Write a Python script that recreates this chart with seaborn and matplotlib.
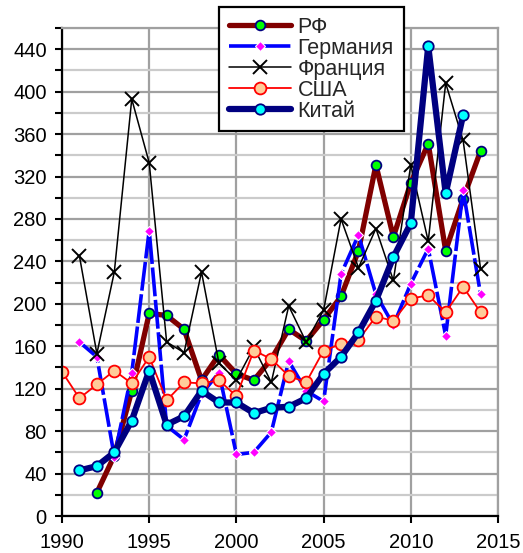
import numpy as np
import pandas as pd
import matplotlib
matplotlib.use('Agg')
import matplotlib.pyplot as plt
from matplotlib.ticker import MultipleLocator
import seaborn as sns

nan = np.nan
years = list(range(1990, 2015))
rf = [nan, nan, 22, 57, 118, 191, 189, 176, 128, 152, 134, 128, 148, 176, 165, 185, 207, 250, 331, 263, 314, 351, 250, 299, 344]
germany = [nan, 164, 150, 56, 135, 269, 85, 72, 115, 135, 58, 60, 79, 146, 118, 108, 228, 265, 209, 180, 219, 252, 170, 307, 209]
france = [nan, 245, 153, 230, 393, 333, 164, 154, 230, 144, 128, 159, 126, 198, 164, 194, 280, 234, 271, 222, 331, 259, 408, 354, 233]
usa = [136, 111, 124, 137, 125, 150, 109, 126, 125, 128, 113, 156, 148, 132, 126, 156, 162, 166, 188, 184, 205, 208, 192, 216, 192]
china = [nan, 43, 47, 60, 90, 137, 86, 94, 118, 107, 107, 97, 102, 103, 111, 134, 150, 173, 203, 244, 276, 443, 304, 378, nan]

labels = ['РФ', 'Германия', 'Франция', 'США', 'Китай']

sns.set_theme(style='white')
plt.rcParams['font.family'] = ['Liberation Sans', 'DejaVu Sans']

fig = plt.figure(figsize=(5.23, 5.53), dpi=100)
ax = fig.add_axes([62 / 523, 1 - 516 / 553, 436 / 523, 488 / 553])

df = pd.DataFrame({'year': years, 'РФ': rf, 'Германия': germany,
                   'Франция': france, 'США': usa, 'Китай': china})

# series styles, in drawing order
styles = {
    'РФ': dict(color='#800000', lw=3.8, marker='o', ms=7, mfc='#00ff00', mec='#000080', mew=1.3),
    'Германия': dict(color='#0000ff', lw=2.6, marker='D', ms=5, mfc='#ff00ff', mec='white', mew=0.8,
                     dashes=(8, 1.0)),
    'Франция': dict(color='black', lw=1.1, marker='x', ms=10, mfc='black', mec='black', mew=1.4),
    'США': dict(color='#ff0000', lw=1.3, marker='o', ms=8.5, mfc='#ffcc99', mec='#ff0000', mew=1.3),
    'Китай': dict(color='#000080', lw=4.5, marker='o', ms=7.5, mfc='#00ffff', mec='#000080', mew=1.3),
}

handles = []
for name in labels:
    st = styles[name]
    d = df[['year', name]].dropna()
    kw = dict(marker=st['marker'], markersize=st['ms'], markerfacecolor=st['mfc'],
              markeredgecolor=st['mec'], markeredgewidth=st['mew'])
    if 'dashes' in st:
        kw['dashes'] = st['dashes']
    sns.lineplot(data=d, x='year', y=name, ax=ax, color=st['color'], linewidth=st['lw'],
                 label=name, legend=False, **kw)
    handles.append(ax.lines[-1])

ax.set_xlim(1990, 2015)
ax.set_ylim(0, 460)
ax.xaxis.set_major_locator(MultipleLocator(5))
ax.yaxis.set_major_locator(MultipleLocator(40))
ax.yaxis.set_minor_locator(MultipleLocator(20))
ax.set_yticks([t for t in range(0, 441, 40)])
ax.set_xlabel('')
ax.set_ylabel('')

ax.grid(True, which='major', axis='both', color='#a0a0a0', lw=1.6, zorder=0)
ax.grid(True, which='minor', axis='y', color='#cbcbcb', lw=1.6, zorder=0)
ax.set_axisbelow(True)

for s in ['top', 'right']:
    ax.spines[s].set_color('#a0a0a0')
    ax.spines[s].set_linewidth(1.6)
for s in ['left', 'bottom']:
    ax.spines[s].set_color('black')
    ax.spines[s].set_linewidth(1.6)

ax.tick_params(axis='both', which='both', direction='out', length=5, width=1.5,
               color='black', labelsize=14.5, labelcolor='black')
ax.tick_params(axis='y', which='major', pad=6, left=True)
ax.tick_params(axis='y', which='minor', left=True, length=5)
ax.tick_params(axis='x', which='major', pad=7, bottom=True)

leg = fig.legend(handles=handles, labels=labels, loc='upper left',
                 bbox_to_anchor=(219 / 523, 1 - 7 / 553), bbox_transform=fig.transFigure,
                 fontsize=15.5, frameon=True, fancybox=False, shadow=False,
                 handlelength=2.9, handletextpad=0.3, labelspacing=0.0,
                 borderpad=0.45, borderaxespad=0, numpoints=1)
leg.get_frame().set_edgecolor('black')
leg.get_frame().set_linewidth(1.6)
leg.get_frame().set_facecolor('white')
leg.get_frame().set_alpha(1)

fig.savefig('out.png', dpi=100)
